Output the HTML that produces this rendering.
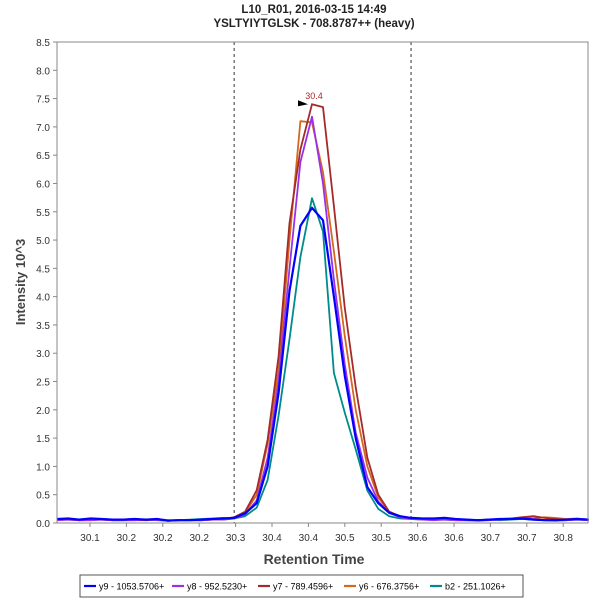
<!DOCTYPE html>
<html><head><meta charset="utf-8"><style>
body{margin:0;background:#fff;font-family:"Liberation Sans",sans-serif}
svg text{font-family:"Liberation Sans",sans-serif}
</style></head><body>
<svg id="chart" width="600" height="600" xmlns="http://www.w3.org/2000/svg">
<rect width="600" height="600" fill="#fff"/>
<text x="314" y="13" text-anchor="middle" font-size="11.5" font-weight="bold" fill="#222">L10_R01, 2016-03-15 14:49</text>
<text x="314" y="27" text-anchor="middle" font-size="11.5" font-weight="bold" fill="#222">YSLTYIYTGLSK - 708.8787++ (heavy)</text>
<g id="grid"></g>
<g id="series"></g>
<rect x="57" y="42" width="531" height="481" fill="none" stroke="#888"/>
<g id="axes"></g>
<text x="314" y="564" text-anchor="middle" font-size="14" font-weight="bold" fill="#444">Retention Time</text>
<text transform="translate(25,282) rotate(-90)" text-anchor="middle" font-size="13" font-weight="bold" fill="#444">Intensity 10^3</text>
<g>
<rect x="80" y="575" width="443" height="22" fill="#fff" stroke="#555"/>
<g id="legend"></g>
</g>
</svg>
<script>
const times=[30.055,30.070,30.085,30.101,30.116,30.131,30.146,30.161,30.177,30.192,30.207,30.222,30.237,30.253,30.268,30.283,30.298,30.313,30.329,30.344,30.359,30.374,30.389,30.405,30.420,30.435,30.450,30.465,30.481,30.496,30.511,30.526,30.541,30.557,30.572,30.587,30.602,30.617,30.633,30.648,30.663,30.678,30.693,30.709,30.724,30.739,30.754,30.769,30.785];
const y9=[.07,.08,.06,.08,.07,.06,.06,.07,.06,.07,.04,.05,.05,.06,.07,.08,.09,.17,.35,1.0,2.3,4.1,5.25,5.57,5.35,4.0,2.6,1.5,.63,.35,.18,.12,.09,.08,.08,.09,.07,.06,.05,.06,.07,.07,.08,.06,.05,.05,.06,.07,.06];
const y8=[.05,.06,.05,.05,.06,.05,.05,.05,.06,.05,.04,.05,.05,.05,.06,.06,.08,.15,.4,1.15,2.5,4.5,6.38,7.18,6.0,4.3,2.8,1.6,.8,.38,.18,.1,.07,.06,.05,.06,.05,.05,.04,.05,.06,.07,.08,.07,.05,.04,.05,.06,.05];
const y7=[.06,.06,.05,.06,.06,.05,.05,.06,.05,.06,.04,.05,.05,.05,.06,.07,.1,.2,.58,1.47,2.95,5.3,6.6,7.4,7.35,5.6,3.8,2.4,1.15,.5,.2,.12,.08,.07,.07,.06,.06,.06,.05,.06,.07,.08,.1,.12,.09,.07,.06,.07,.06];
const y6=[.05,.06,.05,.05,.06,.05,.05,.05,.05,.06,.04,.05,.05,.05,.06,.06,.08,.18,.5,1.4,2.7,5.0,7.1,7.08,6.2,4.8,3.3,2.0,1.0,.45,.2,.12,.08,.07,.06,.06,.06,.05,.05,.06,.06,.08,.09,.08,.1,.09,.07,.08,.06];
const b2=[.06,.07,.06,.06,.07,.06,.06,.07,.06,.07,.05,.05,.06,.07,.08,.09,.08,.12,.27,.76,1.9,3.25,4.7,5.74,5.15,2.65,1.95,1.3,.57,.25,.12,.08,.07,.06,.06,.06,.05,.05,.05,.06,.05,.06,.07,.06,.05,.05,.05,.06,.05];
const seriesNames=["y9 - 1053.5706+","y8 - 952.5230+","y7 - 789.4596+","y6 - 676.3756+","b2 - 251.1026+"];
const seriesColors=["#0000ff","#9b30e6","#a52a2a","#d2691e","#008b8b"];
const xTicks=[30.1,30.15,30.2,30.25,30.3,30.35,30.4,30.45,30.5,30.55,30.6,30.65,30.7,30.75];
const xTickLabels=["30.1","30.2","30.2","30.2","30.3","30.4","30.4","30.5","30.5","30.6","30.6","30.7","30.7","30.8"];
const yTicks=[0,0.5,1,1.5,2,2.5,3,3.5,4,4.5,5,5.5,6,6.5,7,7.5,8,8.5];
const boundaries=[30.298,30.541];
const apexTime=30.405, apexValue=7.4, apexLabel="30.4";

const NS="http://www.w3.org/2000/svg";
const xs=t=>90+(t-30.1)*728;
const ys=v=>523-v*(481/8.5);
function mk(tag,attrs,parent){const e=document.createElementNS(NS,tag);for(const k in attrs)e.setAttribute(k,attrs[k]);parent.appendChild(e);return e;}
const axes=document.getElementById('axes'),grid=document.getElementById('grid'),ser=document.getElementById('series'),leg=document.getElementById('legend');
yTicks.forEach(v=>{
  const l=mk('line',{x1:53,x2:57,y1:ys(v),y2:ys(v),stroke:'#888'},axes);
  
  
  const t=mk('text',{x:50,y:ys(v)+4,'text-anchor':'end','font-size':'10',fill:'#333'},axes);
  t.textContent=v.toFixed(1);
  
  
});
xTicks.forEach((v,i)=>{
  const l=mk('line',{x1:xs(v),x2:xs(v),y1:523,y2:527,stroke:'#888'},axes);
  
  
  const t=mk('text',{x:xs(v),y:541,'text-anchor':'middle','font-size':'10',fill:'#333'},axes);
  t.textContent=xTickLabels[i];
  
  
});
boundaries.forEach(b=>{
  const l=mk('line',{x1:xs(b),x2:xs(b),y1:42,y2:523,stroke:'#333','stroke-dasharray':'3,3'},grid);
  
  
});
const data=[y9,y8,y7,y6,b2];
[4,3,2,1,0].forEach(si=>{
  const pts=data[si].map((v,i)=>xs(times[i]).toFixed(1)+','+ys(v).toFixed(1)).join(' ');
  const p=mk('polyline',{points:pts,fill:'none',stroke:seriesColors[si],'stroke-width':si===0?2.2:1.8,'stroke-linejoin':'round'},ser);
  
  
});
const ax=xs(apexTime),ay=ys(apexValue);
const tri=mk('polygon',{points:`${ax-14},${ay-4} ${ax-4},${ay} ${ax-14},${ay+2}`,fill:'#000'},ser);


const at=mk('text',{x:ax+2,y:ay-5,'text-anchor':'middle','font-size':'9',fill:'#a52a2a'},ser);
at.textContent=apexLabel;


const legX=[84,172,258,344,430];
seriesNames.forEach((n,i)=>{
  const l=mk('line',{x1:legX[i],x2:legX[i]+12,y1:586,y2:586,stroke:seriesColors[i],'stroke-width':2.2},leg);
  
  
  const t=mk('text',{x:legX[i]+15,y:589.5,'font-size':'9',fill:'#000'},leg);
  t.textContent=n;
  
  
});
</script>
</body></html>
